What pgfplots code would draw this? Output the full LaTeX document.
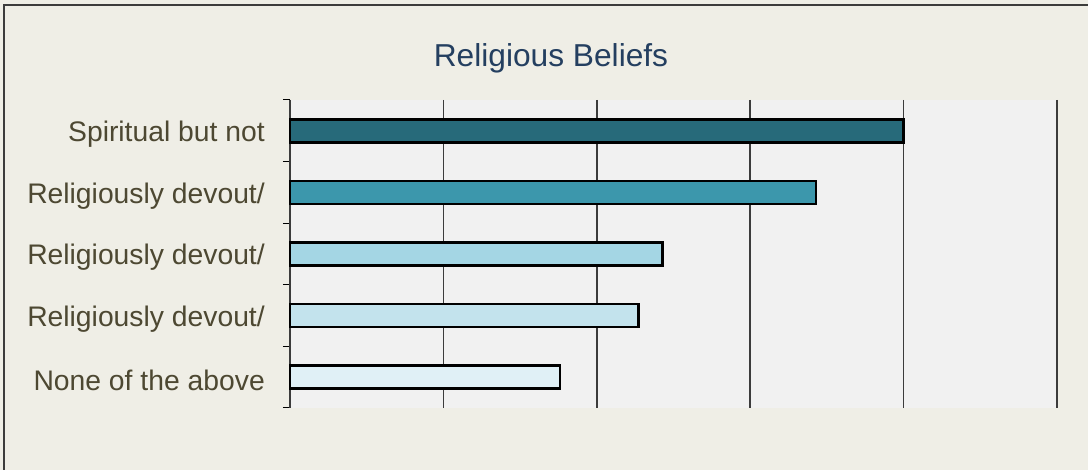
\documentclass[border=0pt]{standalone}
\usepackage{pgfplots}
\pgfplotsset{compat=1.18}
\usepackage{fontspec}
\setmainfont{Liberation Sans}
\definecolor{bgbeige}{RGB}{239,238,230}
\definecolor{plotbg}{RGB}{241,241,241}
\definecolor{framegray}{RGB}{60,60,60}
\definecolor{titleblue}{RGB}{36,63,96}
\definecolor{labelcol}{RGB}{77,72,50}
\definecolor{gridgray}{RGB}{60,60,60}
\definecolor{axisgray}{RGB}{128,128,128}
\definecolor{cA}{RGB}{39,106,122}
\definecolor{cB}{RGB}{60,151,172}
\definecolor{cC}{RGB}{164,214,228}
\definecolor{cD}{RGB}{195,227,237}
\definecolor{cE}{RGB}{224,240,246}
\begin{document}
\begin{tikzpicture}
\useasboundingbox (0,0) rectangle (1088pt,470pt);
\fill[bgbeige] (0,0) rectangle (1088pt,470pt);
\draw[framegray, line width=1.2pt] (4pt,0) -- (4pt,465pt) -- (1088pt,465pt);
\node[anchor=base, text=titleblue, inner sep=0pt, font=\fontsize{31.7pt}{36pt}\selectfont] at (551pt,403pt) {Religious Beliefs};
\begin{axis}[
  at={(290pt,62pt)}, anchor=south west,
  scale only axis, width=767pt, height=308pt,
  xmin=0, xmax=50, ymin=0.5, ymax=5.5, y dir=reverse,
  xtick={10,20,30,40,50}, xticklabels={},
  xmajorgrids, major grid style={gridgray, line width=1.5pt},
  extra x ticks={0}, extra x tick labels={},
  extra x tick style={grid style={axisgray, line width=2pt}},
  x tick style={draw=none},
  ytick={1,2,3,4,5},
  yticklabels={Spiritual but not, Religiously devout/, Religiously devout/, Religiously devout/, None of the above},
  major tick length=0pt, minor tick length=7pt,
  minor ytick={0.5,1.5,2.5,3.5,4.5,5.5},
  minor y tick style={black, line width=1pt},
  tick align=outside, ytick pos=left,
  axis line style={draw=none},
  axis background/.style={fill=plotbg},
  yticklabel style={font=\fontsize{28.3pt}{32pt}\selectfont, text=labelcol, inner sep=0pt, xshift=-25pt, yshift=-3.5pt},
  clip=false,
]
\addplot[xbar, bar width=23pt, bar shift=0pt, draw=black, line width=2.6pt, fill=cA] coordinates {(40,1)};
\addplot[xbar, bar width=23pt, bar shift=0pt, draw=black, line width=2.6pt, fill=cB] coordinates {(34.3,2)};
\addplot[xbar, bar width=23pt, bar shift=0pt, draw=black, line width=2.6pt, fill=cC] coordinates {(24.3,3)};
\addplot[xbar, bar width=23pt, bar shift=0pt, draw=black, line width=2.6pt, fill=cD] coordinates {(22.7,4)};
\addplot[xbar, bar width=23pt, bar shift=0pt, draw=black, line width=2.6pt, fill=cE] coordinates {(17.6,5)};
\end{axis}
\end{tikzpicture}
\end{document}
